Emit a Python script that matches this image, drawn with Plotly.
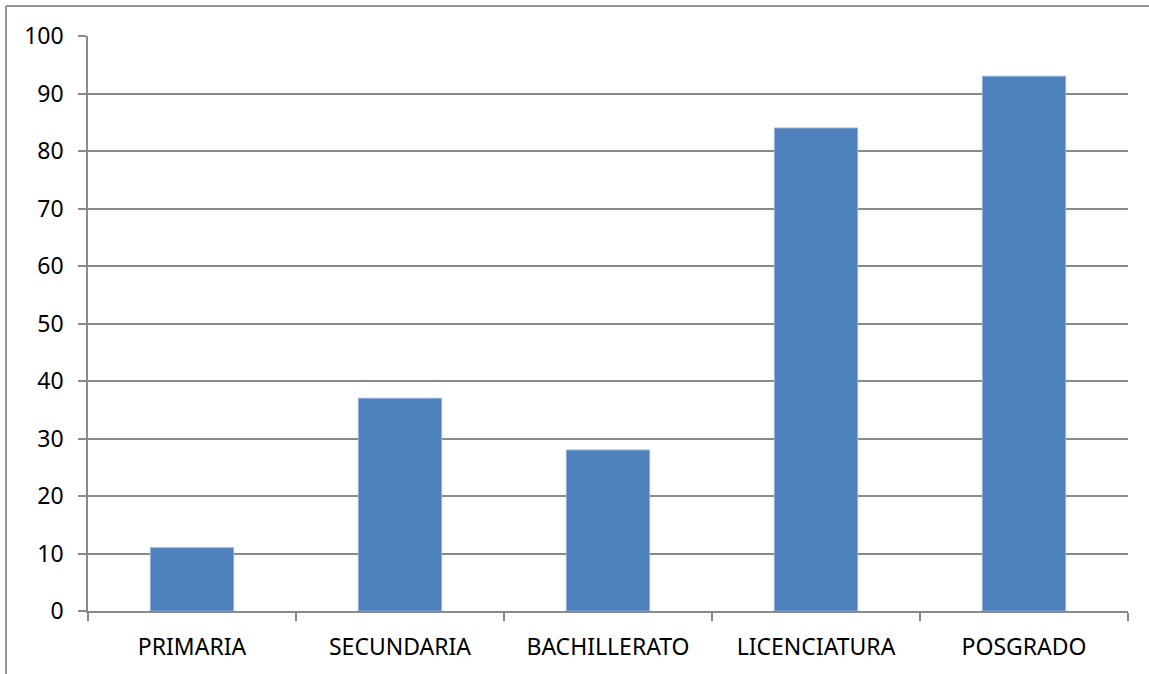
import plotly.graph_objects as go

# Nivel de estudios y valores de cada barra
categorias = ["PRIMARIA", "SECUNDARIA", "BACHILLERATO", "LICENCIATURA", "POSGRADO"]
valores = [11, 37, 28, 84, 93]
y_ticks = [0, 10, 20, 30, 40, 50, 60, 70, 80, 90, 100]

GRIS = "#8a8a8a"
AZUL = "#4F81BD"
FUENTE = dict(family="Noto Sans, Open Sans, sans-serif", size=23, color="#000000")

fig = go.Figure(
    go.Bar(
        x=categorias,
        y=valores,
        marker=dict(color=AZUL, line=dict(color="#8fb0da", width=1)),
        hoverinfo="x+y",
    )
)

fig.update_layout(
    width=1149,
    height=674,
    margin=dict(l=88, r=21, t=36, b=63),
    paper_bgcolor="white",
    plot_bgcolor="white",
    bargap=0.6,
    showlegend=False,
    font=FUENTE,
    xaxis=dict(
        type="category",
        showgrid=False,
        showline=True,
        linecolor=GRIS,
        linewidth=2,
        ticks="outside",
        tickson="boundaries",
        ticklen=8,
        tickcolor=GRIS,
        tickwidth=1.5,
        tickfont=FUENTE,
        ticklabelstandoff=14,
    ),
    yaxis=dict(
        range=[0, 100],
        tickvals=y_ticks,
        showgrid=True,
        gridcolor=GRIS,
        gridwidth=2,
        showline=True,
        linecolor=GRIS,
        linewidth=1.5,
        ticks="outside",
        ticklen=8,
        tickcolor=GRIS,
        tickwidth=1.5,
        tickfont=FUENTE,
        ticklabelstandoff=10,
        zeroline=False,
    ),
    shapes=[
        # marco exterior del gráfico (superior e izquierdo)
        dict(type="line", xref="paper", yref="paper",
             x0=-82 / 1040, x1=1.1, y0=1 + 30 / 575, y1=1 + 30 / 575,
             line=dict(color="#959595", width=2)),
        dict(type="line", xref="paper", yref="paper",
             x0=-82 / 1040, x1=-82 / 1040, y0=1 + 30 / 575, y1=-0.2,
             line=dict(color="#959595", width=2)),
    ],
)

fig.write_html("out.html")
